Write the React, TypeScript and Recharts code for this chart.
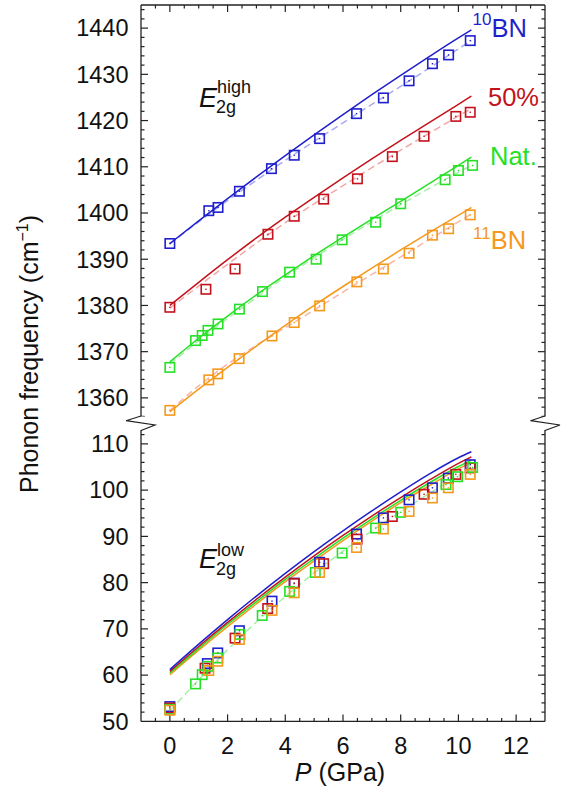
import React from "react";
import { ComposedChart, Line, ReferenceLine, Scatter, XAxis, YAxis } from "recharts";

const FONT = '"Liberation Sans", Arial, Helvetica, sans-serif';
const AXIS = "#222222";

const BLUE = "#1f1fcc";
const RED = "#c3121b";
const GREEN = "#25e025";
const ORANGE = "#f5991c";
const BLUE_FIT = "#a9a9f4";
const RED_FIT = "#f4a6a6";
const GREEN_FIT = "#a8eda8";
const ORANGE_FIT = "#f6b6a8";

// tick labels
const xMajor = [0, 2, 4, 6, 8, 10, 12];
const highMajor = [1360, 1370, 1380, 1390, 1400, 1410, 1420, 1430, 1440];
const lowMajor = [50, 60, 70, 80, 90, 100, 110];

// minor ticks (axis furniture only)
const xMinor = Array.from({ length: 27 }, (_, i) => -0.5 + 0.5 * i);
const highMinor = Array.from({ length: 45 }, (_, i) => 1356 + 2 * i);
const lowMinor = Array.from({ length: 31 }, (_, i) => 52 + 2 * i);

// pressure grid of the curves (GPa)
const curveP = [0, 1, 2, 3, 4, 5, 6, 7, 8, 9, 10, 10.45];

// E2g high: calculation (solid)
const highCalc10 = [1393.4, 1398.3, 1403.1, 1407.8, 1412.4, 1416.9, 1421.3, 1425.6, 1429.8, 1433.9, 1437.9, 1439.6];
const highCalc50 = [1380.0, 1385.0, 1389.9, 1394.6, 1399.1, 1403.4, 1407.6, 1411.7, 1415.7, 1419.6, 1423.5, 1425.3];
const highCalcNat = [1367.8, 1372.9, 1377.7, 1382.3, 1386.6, 1390.8, 1394.8, 1398.7, 1402.5, 1406.4, 1410.3, 1412.1];
const highCalc11 = [1357.0, 1361.9, 1366.6, 1371.2, 1375.7, 1380.0, 1384.1, 1388.1, 1392.0, 1395.8, 1399.5, 1401.2];

// E2g high: fit to experiment (dashed)
const highFit10 = [1393.3, 1398.1, 1402.7, 1407.1, 1411.4, 1415.5, 1419.5, 1423.5, 1427.4, 1431.4, 1435.5, 1437.3];
const highFit50 = [1379.4, 1384.2, 1388.9, 1393.5, 1397.9, 1402.0, 1405.9, 1409.8, 1413.6, 1417.3, 1421.0, 1422.6];
const highFitNat = [1367.3, 1372.4, 1377.2, 1381.7, 1386.2, 1390.3, 1394.3, 1398.1, 1401.8, 1405.4, 1408.8, 1410.3];
const highFit11 = [1357.3, 1362.6, 1367.3, 1371.4, 1375.2, 1379.0, 1382.9, 1386.7, 1390.5, 1394.3, 1398.1, 1399.8];

// E2g high: experiment
const highExp10P = [0, 1.35, 1.67, 2.41, 3.52, 4.31, 5.19, 6.47, 7.4, 8.29, 9.1, 9.66, 10.41];
const highExp10W = [1393.4, 1400.5, 1401.2, 1404.7, 1409.6, 1412.5, 1416.1, 1421.5, 1424.9, 1428.6, 1432.3, 1434.2, 1437.3];
const highExp50P = [0, 1.25, 2.26, 3.4, 4.31, 5.33, 6.5, 7.71, 8.81, 9.91, 10.41];
const highExp50W = [1379.6, 1383.5, 1387.9, 1395.4, 1399.3, 1403.0, 1407.4, 1412.2, 1416.6, 1420.9, 1421.8];
const highExpNatP = [0, 0.89, 1.12, 1.32, 1.67, 2.41, 3.21, 4.15, 5.07, 5.97, 7.13, 8.0, 9.54, 10.0, 10.49];
const highExpNatW = [1366.6, 1372.4, 1373.5, 1374.6, 1376.0, 1379.2, 1383.0, 1387.2, 1390.0, 1394.2, 1398.0, 1402.0, 1407.2, 1409.2, 1410.3];
const highExp11P = [0, 1.35, 1.66, 2.4, 3.54, 4.31, 5.19, 6.48, 7.4, 8.29, 9.1, 9.66, 10.41];
const highExp11W = [1357.3, 1363.9, 1365.2, 1368.5, 1373.4, 1376.3, 1379.9, 1385.1, 1387.9, 1391.3, 1395.2, 1396.6, 1399.6];

// E2g low: calculation (solid) and fit (dashed)
const lowCalc10 = [61.2, 66.7, 72.0, 77.1, 82.0, 86.7, 91.2, 95.5, 99.6, 103.5, 107.0, 108.3];
const lowCalc50 = [60.8, 66.2, 71.4, 76.4, 81.2, 85.8, 90.2, 94.4, 98.4, 102.2, 105.8, 107.2];
const lowCalcNat = [60.5, 65.8, 71.0, 75.9, 80.7, 85.2, 89.6, 93.8, 97.8, 101.6, 105.1, 106.5];
const lowCalc11 = [60.1, 65.4, 70.5, 75.4, 80.2, 84.7, 89.1, 93.3, 97.3, 101.0, 104.6, 106.0];
const lowFitNat = [52.3, 59.0, 65.5, 71.5, 77.0, 82.1, 86.8, 91.2, 95.3, 99.3, 103.1, 104.8];

// E2g low: experiment
const lowExp10P = [0, 1.3, 1.66, 2.41, 3.54, 4.31, 5.19, 6.47, 7.4, 8.29, 9.1, 9.65, 10.41];
const lowExp10W = [53.2, 62.5, 64.8, 69.6, 76.0, 79.9, 84.4, 90.5, 94.0, 97.9, 100.5, 102.6, 105.5];
const lowExp50P = [0, 1.22, 2.26, 3.39, 4.31, 5.33, 6.49, 7.71, 8.81, 9.91, 10.41];
const lowExp50W = [52.9, 61.5, 68.0, 74.4, 79.8, 84.1, 89.4, 94.3, 99.1, 103.4, 104.8];
const lowExpNatP = [0, 0.89, 1.12, 1.32, 1.66, 2.43, 3.2, 4.15, 5.04, 5.97, 7.13, 8.0, 9.57, 9.97, 10.49];
const lowExpNatW = [52.6, 58.1, 60.1, 61.9, 63.7, 68.8, 72.9, 78.1, 82.2, 86.4, 91.8, 95.2, 101.2, 102.9, 104.9];
const lowExp11P = [0, 1.35, 1.66, 2.41, 3.54, 4.31, 5.19, 6.47, 7.4, 8.29, 9.1, 9.65, 10.41];
const lowExp11W = [52.4, 61.0, 63.0, 67.7, 74.0, 77.8, 82.2, 87.6, 91.6, 95.4, 98.3, 100.5, 103.4];

type Pt = { P: number; w: number };
const zip = (ps: number[], ws: number[]): Pt[] => ps.map((P, i) => ({ P, w: ws[i] }));
const curve = (ws: number[]) => zip(curveP, ws);

const axisLine = { stroke: AXIS, strokeWidth: 1.3 };
const tickFont = { fontSize: 23.5, fontFamily: FONT, fill: "#111" };
const T = 0.01; // hairline axis size, keeps extra axes from taking room
const X_DOM = [-1, 13];
// inward tick lengths in axis units (about 7 px major / 3.5 px minor)
const XLEN = 0.243;
const YLEN = 1.514;

function Square(props: any) {
  const { cx, cy, color } = props;
  if (cx == null || cy == null) return null;
  return (
    <g>
      <rect x={cx - 4.7} y={cy - 4.7} width={9.4} height={9.4} fill="none" stroke={color} strokeWidth={1.6} />
      <rect x={cx - 0.7} y={cy - 0.7} width={1.4} height={1.4} fill={color} />
    </g>
  );
}

const solid = (key: string, data: Pt[], color: string) => (
  <Line key={key} data={data} dataKey="w" type="monotone" stroke={color} strokeWidth={1.5} dot={false} activeDot={false} isAnimationActive={false} />
);

const dashed = (key: string, data: Pt[], color: string) => (
  <Line key={key} data={data} dataKey="w" type="monotone" stroke={color} strokeWidth={1.5} strokeDasharray="7 4" dot={false} activeDot={false} isAnimationActive={false} />
);

const squares = (key: string, data: Pt[], color: string) => (
  <Scatter key={key} data={data} dataKey="w" shape={(p: any) => <Square cx={p.cx} cy={p.cy} color={color} />} isAnimationActive={false} />
);

const seg = (key: string, a: { x: number; y: number }, b: { x: number; y: number }) => (
  <ReferenceLine key={key} segment={[a, b]} stroke={AXIS} strokeWidth={1.2} ifOverflow="visible" />
);

// inward ticks on the frame of one panel
const frameTicks = (yDom: number[], yMajor: number[], yMinor: number[], edge: "top" | "bottom") => {
  const out: React.ReactNode[] = [];
  const [x0, x1] = X_DOM;
  yMinor.forEach((v) => {
    const k = yMajor.includes(v) ? 1 : 0.5;
    out.push(seg(`l${v}`, { x: x0, y: v }, { x: x0 + XLEN * k, y: v }));
    out.push(seg(`r${v}`, { x: x1, y: v }, { x: x1 - XLEN * k, y: v }));
  });
  const yEdge = edge === "top" ? yDom[1] : yDom[0];
  const dir = edge === "top" ? -1 : 1;
  xMinor.forEach((v) => {
    const k = xMajor.includes(v) ? 1 : 0.5;
    out.push(seg(`x${v}`, { x: v, y: yEdge }, { x: v, y: yEdge + dir * YLEN * k }));
  });
  return out;
};

function App() {
  return (
    <div style={{ position: "absolute", left: 0, top: 0, width: 564, height: 794, background: "#fff" }}>
      <div style={{ position: "absolute", left: 0, top: 0 }}>
        <ComposedChart width={564} height={421} margin={{ top: 5, right: 19, bottom: 0, left: 81 }}>
          <XAxis xAxisId={0} type="number" dataKey="P" orientation="top" height={T} domain={X_DOM} allowDataOverflow ticks={xMajor} tick={false} tickLine={false} axisLine={axisLine} />
          <YAxis yAxisId={0} type="number" dataKey="w" width={60} domain={[1355, 1445]} allowDataOverflow ticks={highMajor} interval={0} tickSize={0} tickMargin={12.5} tick={tickFont} tickLine={false} axisLine={axisLine} />
          <YAxis yAxisId="r" type="number" orientation="right" width={T} domain={[1355, 1445]} allowDataOverflow ticks={highMajor} tick={false} tickLine={false} axisLine={axisLine} />
          {frameTicks([1355, 1445], highMajor, highMinor, "top")}
          {dashed("f10", curve(highFit10), BLUE_FIT)}
          {dashed("f50", curve(highFit50), RED_FIT)}
          {dashed("fnat", curve(highFitNat), GREEN_FIT)}
          {dashed("f11", curve(highFit11), ORANGE_FIT)}
          {solid("c10", curve(highCalc10), BLUE)}
          {solid("c50", curve(highCalc50), RED)}
          {solid("cnat", curve(highCalcNat), GREEN)}
          {solid("c11", curve(highCalc11), ORANGE)}
          {squares("e10", zip(highExp10P, highExp10W), BLUE)}
          {squares("e50", zip(highExp50P, highExp50W), RED)}
          {squares("enat", zip(highExpNatP, highExpNatW), GREEN)}
          {squares("e11", zip(highExp11P, highExp11W), ORANGE)}
        </ComposedChart>
      </div>
      <div style={{ position: "absolute", left: 0, top: 430.3 }}>
        <ComposedChart width={564} height={363.7} margin={{ top: 0, right: 19, bottom: 0, left: 81 }}>
          <XAxis xAxisId={0} type="number" dataKey="P" orientation="bottom" height={72.3} domain={X_DOM} allowDataOverflow ticks={xMajor} interval={0} tickSize={0} tickMargin={15.6} tick={tickFont} tickLine={false} axisLine={axisLine} />
          <YAxis yAxisId={0} type="number" dataKey="w" width={60} domain={[50, 113]} allowDataOverflow ticks={lowMajor} interval={0} tickSize={0} tickMargin={12.5} tick={tickFont} tickLine={false} axisLine={axisLine} />
          <YAxis yAxisId="r" type="number" orientation="right" width={T} domain={[50, 113]} allowDataOverflow ticks={lowMajor} tick={false} tickLine={false} axisLine={axisLine} />
          {frameTicks([50, 113], lowMajor, lowMinor, "bottom")}
          {dashed("lfnat", curve(lowFitNat), GREEN_FIT)}
          {solid("l11", curve(lowCalc11), ORANGE)}
          {solid("lnat", curve(lowCalcNat), GREEN)}
          {solid("l50", curve(lowCalc50), RED)}
          {solid("l10", curve(lowCalc10), BLUE)}
          {squares("le10", zip(lowExp10P, lowExp10W), BLUE)}
          {squares("le50", zip(lowExp50P, lowExp50W), RED)}
          {squares("lenat", zip(lowExpNatP, lowExpNatW), GREEN)}
          {squares("le11", zip(lowExp11P, lowExp11W), ORANGE)}
        </ComposedChart>
      </div>
      <svg width={564} height={794} style={{ position: "absolute", left: 0, top: 0, pointerEvents: "none" }} fontFamily={FONT}>
        {/* axis break marks */}
        <rect x={138} y={416.5} width={6} height={5} fill="#fff" />
        <rect x={542} y={416.5} width={6} height={5} fill="#fff" />
        <path d="M141,416 L126,420.7 L155,425 L141,430.5" fill="none" stroke={AXIS} strokeWidth={1.2} />
        <path d="M545,416 L530.5,420.7 L560,425 L545,430.5" fill="none" stroke={AXIS} strokeWidth={1.2} />

        {/* series labels */}
        <text x={472.5} y={36.5} fill={BLUE} fontSize={25.5}>
          <tspan fontSize={17} dy={-11.3}>10</tspan>
          <tspan dy={11.3}>BN</tspan>
        </text>
        <text x={488} y={106} fill={RED} fontSize={25.5}>50%</text>
        <text x={490} y={165} fill={GREEN} fontSize={25.5}>Nat.</text>
        <text x={473} y={249.3} fill={ORANGE} fontSize={25.5}>
          <tspan fontSize={17} dy={-10.5}>11</tspan>
          <tspan dy={10.5}>BN</tspan>
        </text>

        {/* mode labels */}
        <text x={199} y={106.7} fontSize={27} fontStyle="italic" fill="#111">E</text>
        <text x={216} y={113} fontSize={18} fill="#111">2g</text>
        <text x={217} y={93} fontSize={18} fill="#111">high</text>
        <text x={199} y={568} fontSize={27} fontStyle="italic" fill="#111">E</text>
        <text x={216} y={575} fontSize={18} fill="#111">2g</text>
        <text x={217} y={556} fontSize={18} fill="#111">low</text>

        {/* axis titles */}
        <text x={340} y={781} textAnchor="middle" fontSize={25} fill="#111">
          <tspan fontStyle="italic">P</tspan> (GPa)
        </text>
        <text transform="translate(38,354) rotate(-90)" textAnchor="middle" fontSize={25} fill="#111">
          Phonon frequency (cm<tspan fontSize={16} dy={-10}>−1</tspan>
          <tspan dy={10}>)</tspan>
        </text>
      </svg>
    </div>
  );
}

export default App;
